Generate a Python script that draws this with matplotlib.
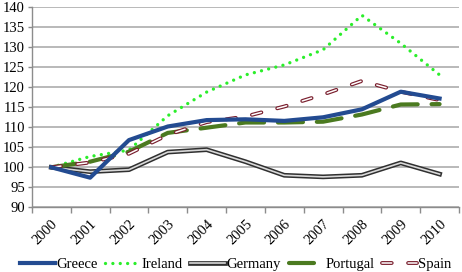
import matplotlib
matplotlib.use('Agg')
import matplotlib.pyplot as plt

# ======================
# DATA
# ======================

years = ['2000', '2001', '2002', '2003', '2004', '2005',
         '2006', '2007', '2008', '2009', '2010']
greece = [100, 97.4, 106.8, 110.2, 111.8, 112.0, 111.6, 112.5, 114.5, 118.9, 117.2]
ireland = [100, 102.7, 104.3, 112.9, 118.8, 123.1, 125.6, 129.4, 138.0, 131.0, 123.1]
germany = [100, 98.9, 99.4, 103.8, 104.4, 101.4, 98.0, 97.6, 98.0, 101.1, 98.3]
portugal = [100, 101.4, 103.9, 108.6, 109.9, 111.2, 111.2, 111.4, 113.2, 115.7, 115.8]
spain = [100, 101.2, 103.4, 108.1, 111.3, 112.7, 115.2, 118.2, 121.6, 118.9, 116.8]

# ======================
# STYLE
# ======================

plt.rcParams['font.family'] = ['Liberation Serif', 'DejaVu Serif']
plt.rcParams['font.size'] = 10.5
plt.rcParams['lines.scale_dashes'] = False

fig = plt.figure(figsize=(4.62, 2.72), dpi=100)
ax = fig.add_axes([0.069, 0.238, 0.9245, 0.735])

x = list(range(len(years)))

# Greece - solid dark blue
l_gr, = ax.plot(x, greece, color='#234B91', lw=3.0, zorder=5)

# Ireland - round dots bright green
l_ie, = ax.plot(x, ireland, color='#2BEE2B', lw=2.4, linestyle=(0, (0.01, 5.3)),
                dash_capstyle='round', zorder=4)

# Germany - double line (dark outline, light core)
l_de1, = ax.plot(x, germany, color='#303030', lw=3.4, zorder=3)
l_de2, = ax.plot(x, germany, color='#D9D9D9', lw=1.2, zorder=3)

# Portugal - long dashes dark green
l_pt, = ax.plot(x, portugal, color='#4B7A20', lw=3.0, linestyle=(0, (18, 10)),
                dash_capstyle='round', zorder=4)

# Spain - outlined short dashes
l_es1, = ax.plot(x, spain, color='#7A1F2E', lw=2.8, linestyle=(0, (7, 11.8)),
                 dash_capstyle='round', zorder=4)
l_es2, = ax.plot(x, spain, color='white', lw=1.1, linestyle=(0, (7, 11.8)),
                 dash_capstyle='round', zorder=4)

# ======================
# AXES
# ======================

ax.set_xlim(-0.5, len(years) - 0.5)
ax.set_ylim(90, 140)
ax.set_yticks(range(90, 141, 5))
ax.yaxis.grid(True, color='#A6A6A6', lw=1.1)
ax.set_axisbelow(True)

ax.set_xticks(x)
ax.set_xticklabels(years, rotation=45, ha='right', va='top', rotation_mode='anchor')
ax.set_xticks([i - 0.5 for i in range(len(years) + 1)], minor=True)
ax.tick_params(axis='x', which='major', length=0, pad=7)
ax.tick_params(axis='x', which='minor', length=4, color='#8C8C8C', width=1)
ax.tick_params(axis='y', length=3, color='#8C8C8C', width=1, pad=2)

for s in ['top', 'right']:
    ax.spines[s].set_visible(False)
ax.spines['left'].set_color('#8C8C8C')
ax.spines['bottom'].set_color('#8C8C8C')
ax.spines['left'].set_linewidth(1)
ax.spines['bottom'].set_linewidth(1)

# ======================
# LEGEND
# ======================

fig.legend([l_gr, l_ie, (l_de1, l_de2), l_pt, (l_es1, l_es2)],
           ['Greece', 'Ireland', 'Germany', 'Portugal', 'Spain'],
           loc='lower center', bbox_to_anchor=(0.51, -0.045), ncol=5, frameon=False,
           handlelength=2.4, handletextpad=0.12, columnspacing=0.5,
           fontsize=10.5)

fig.savefig('out.png', dpi=100)
